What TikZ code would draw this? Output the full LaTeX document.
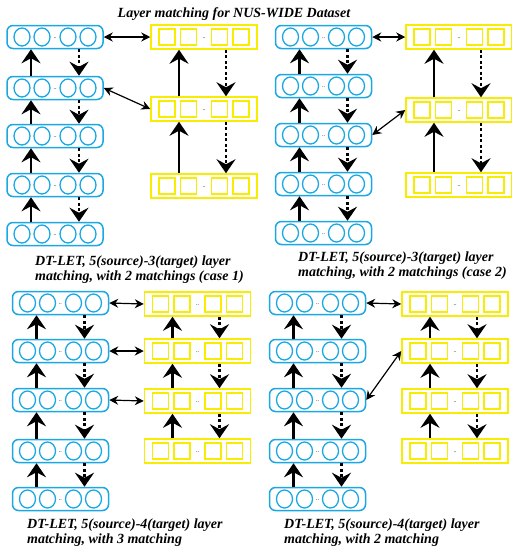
\documentclass[tikz,border=0pt]{standalone}
\usepackage{fontspec}
\setmainfont{Liberation Serif}
\usetikzlibrary{arrows.meta,shapes.geometric}
\definecolor{nnblue}{RGB}{27,167,226}
\definecolor{nnyellow}{RGB}{248,236,0}
\tikzset{
  bluebox/.style={draw=nnblue,line width=1.5pt,rounded corners=6pt,minimum width=96pt,minimum height=23pt,inner sep=0pt},
  neuron/.style={draw=nnblue,line width=1.3pt,ellipse,minimum width=16pt,minimum height=18pt,inner sep=0pt},
  yelbox/.style={draw=nnyellow,line width=1.5pt,minimum width=106pt,minimum height=24pt,inner sep=0pt},
  yelunit/.style={draw=nnyellow,line width=1.5pt,minimum width=16pt,minimum height=16pt,inner sep=0pt},
  gap/.style={inner sep=0pt,font=\fontsize{6}{6}\selectfont},
  uparr/.style={line width=2.4pt,-{Stealth[length=14pt,width=19pt,inset=5pt]}},
  dnarr/.style={line width=2.6pt,dash pattern=on 3pt off 2.5pt,-{Stealth[length=14pt,width=19pt,inset=5pt]}},
  match/.style={line width=1.2pt,{Stealth[length=9pt,width=9pt,inset=3pt]}-{Stealth[length=9pt,width=9pt,inset=3pt]}},
  caption/.style={anchor=base west,inner sep=0pt,font=\bfseries\itshape\fontsize{14}{15}\selectfont},
}
\newcommand\bluelayer[3]{%
  \node[bluebox] (#1) at (#2,#3) {};
  \node[neuron] (#1a) at ([xshift=-33pt]#1.center) {};
  \node[neuron] (#1b) at ([xshift=-13pt]#1.center) {};
  \node[gap] (#1g) at ([yshift=-1pt]#1.center) {..};
  \node[neuron] (#1c) at ([xshift=13pt]#1.center) {};
  \node[neuron] (#1d) at ([xshift=33pt]#1.center) {};
}
\newcommand\yellayer[3]{%
  \node[yelbox] (#1) at (#2,#3) {};
  \node[yelunit] (#1a) at ([xshift=-37pt]#1.center) {};
  \node[yelunit] (#1b) at ([xshift=-15.5pt]#1.center) {};
  \node[gap] (#1g) at ([yshift=-1pt]#1.center) {..};
  \node[yelunit] (#1c) at ([xshift=15.5pt]#1.center) {};
  \node[yelunit] (#1d) at ([xshift=37pt]#1.center) {};
}
% lower, upper
\newcommand\bluelink[2]{%
  \draw[uparr] ([xshift=-24pt]#1.north) -- ([xshift=-24pt]#2.south);
  \draw[dnarr] ([xshift=24pt]#2.south) -- ([xshift=24pt]#1.north);
}
\newcommand\yellink[2]{%
  \draw[uparr] ([xshift=-25pt]#1.north) -- ([xshift=-25pt]#2.south);
  \draw[dnarr] ([xshift=22pt]#2.south) -- ([xshift=22pt]#1.north);
}
\begin{document}
\begin{tikzpicture}[x=1pt,y=-1pt]
\useasboundingbox (0,0) rectangle (512,550);
\node[font=\bfseries\itshape\fontsize{14}{14}\selectfont,inner sep=0pt,anchor=base] (title) at (234,17) {Layer matching for NUS-WIDE Dataset};
% ---------- panel 1
\bluelayer{pa1}{55}{37}
\bluelayer{pa2}{55}{88}
\bluelayer{pa3}{55}{136}
\bluelayer{pa4}{55}{185}
\bluelayer{pa5}{55}{234}
\yellayer{ya1}{204}{37}
\yellayer{ya2}{204}{109}
\yellayer{ya3}{204}{186}
\bluelink{pa2}{pa1}\bluelink{pa3}{pa2}\bluelink{pa4}{pa3}\bluelink{pa5}{pa4}
\yellink{ya2}{ya1}\yellink{ya3}{ya2}
\draw[match] (pa1.east) -- (ya1.west);
\draw[match] (pa2.east) -- (ya2.west);
\node[caption] (capa1) at (35,265) {DT-LET, 5(source)-3(target) layer};
\node[caption] (capa2) at (35,280) {matching, with 2 matchings (case 1)};
% ---------- panel 2
\bluelayer{pb1}{323.5}{37}
\bluelayer{pb2}{323.5}{86}
\bluelayer{pb3}{323.5}{135}
\bluelayer{pb4}{323.5}{184}
\bluelayer{pb5}{323.5}{233}
\yellayer{yb1}{459}{37}
\yellayer{yb2}{459}{110}
\yellayer{yb3}{459}{185}
\bluelink{pb2}{pb1}\bluelink{pb3}{pb2}\bluelink{pb4}{pb3}\bluelink{pb5}{pb4}
\yellink{yb2}{yb1}\yellink{yb3}{yb2}
\draw[match] (pb1.east) -- (yb1.west);
\draw[match] (pb3.east) -- (yb2.west);
\node[caption] (capb1) at (298,261) {DT-LET, 5(source)-3(target) layer};
\node[caption] (capb2) at (298,276) {matching, with 2 matchings (case 2)};
% ---------- panel 3
\bluelayer{pc1}{60.5}{303}
\bluelayer{pc2}{60.5}{351}
\bluelayer{pc3}{60.5}{400}
\bluelayer{pc4}{60.5}{451}
\bluelayer{pc5}{60.5}{499}
\yellayer{yc1}{197.5}{304}
\yellayer{yc2}{197.5}{351}
\yellayer{yc3}{197.5}{401}
\yellayer{yc4}{197.5}{451}
\bluelink{pc2}{pc1}\bluelink{pc3}{pc2}\bluelink{pc4}{pc3}\bluelink{pc5}{pc4}
\yellink{yc2}{yc1}\yellink{yc3}{yc2}\yellink{yc4}{yc3}
\draw[match] (pc1.east) -- (yc1.west);
\draw[match] (pc2.east) -- (yc2.west);
\draw[match] (pc3.east) -- (yc3.west);
\node[caption] (capc1) at (27,528) {DT-LET, 5(source)-4(target) layer};
\node[caption] (capc2) at (27,543) {matching, with 3 matching};
% ---------- panel 4
\bluelayer{pd1}{317.5}{303}
\bluelayer{pd2}{317.5}{351}
\bluelayer{pd3}{317.5}{400}
\bluelayer{pd4}{317.5}{451}
\bluelayer{pd5}{317.5}{499}
\yellayer{yd1}{455}{304}
\yellayer{yd2}{455}{351}
\yellayer{yd3}{455}{401}
\yellayer{yd4}{455}{451}
\bluelink{pd2}{pd1}\bluelink{pd3}{pd2}\bluelink{pd4}{pd3}\bluelink{pd5}{pd4}
\yellink{yd2}{yd1}\yellink{yd3}{yd2}\yellink{yd4}{yd3}
\draw[match] (pd1.east) -- (yd1.west);
\draw[match] (pd3.east) -- (yd2.west);
\node[caption] (capd1) at (284,528) {DT-LET, 5(source)-4(target) layer};
\node[caption] (capd2) at (284,543) {matching, with 2 matching};
\end{tikzpicture}
\end{document}
